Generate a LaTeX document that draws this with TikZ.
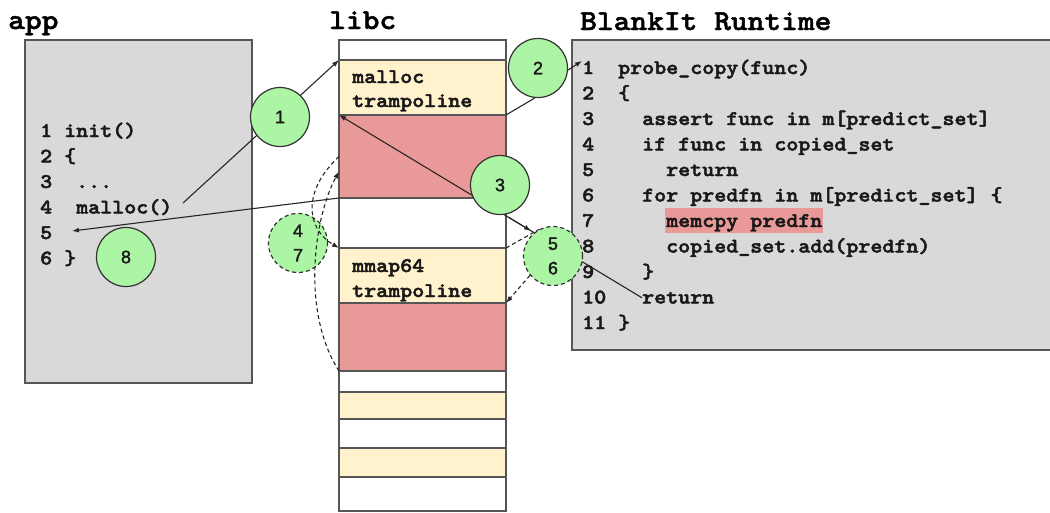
\documentclass[tikz,border=0pt]{standalone}
\usepackage{fontspec}
\newfontfamily\numfont{Liberation Sans}
\usetikzlibrary{arrows.meta,calc}

\definecolor{boxgray}{HTML}{D9D9D9}
\definecolor{boxline}{HTML}{555555}
\definecolor{tyellow}{HTML}{FFF2CC}
\definecolor{tred}{HTML}{EA9999}
\definecolor{bubblegreen}{RGB}{172,245,164}

% typewriter text widened to a Courier-like advance, with a slightly heavier outline
\newcommand{\cw}[1]{\special{pdf:literal direct 2 Tr 0.45 w}\scalebox{1.1}[1]{#1}\special{pdf:literal direct 0 Tr}}
% step numbers with a light outline
\newcommand{\sn}[1]{\special{pdf:literal direct 2 Tr 0.3 w}#1\special{pdf:literal direct 0 Tr}}

\pgfdeclarelayer{base}
\pgfdeclarelayer{links}
\pgfdeclarelayer{top}
\pgfsetlayers{base,links,main,top}

\tikzset{
  title/.style={font=\ttfamily\bfseries\fontsize{29}{29}\selectfont, inner sep=0pt, anchor=base west, text=black},
  code/.style={font=\ttfamily\bfseries\fontsize{20.8}{20.8}\selectfont, inner sep=0pt, anchor=base west, text=black!90},
  panel/.style={draw=boxline, fill=boxgray, line width=1.3pt, inner sep=0pt, outer sep=0pt, anchor=north west},
  slot/.style={draw=boxline, line width=1.1pt, minimum width=167pt, inner sep=0pt, outer sep=0pt, anchor=north west},
  bubble/.style={circle, draw=black!80, line width=1.2pt, fill=bubblegreen, minimum size=59pt, inner sep=0pt,
    font=\numfont\fontsize{18}{24.5}\selectfont, align=center, text=black!90},
  link/.style={draw=black!85, line width=1.1pt},
  linkarrow/.style={link, -{Latex[length=7pt,width=5pt]}},
  dashlink/.style={link, dash pattern=on 4pt off 3pt},
  dasharrow/.style={dashlink, -{Latex[length=7pt,width=5pt]}},
}

\begin{document}
\begin{tikzpicture}[x=1pt,y=-1pt]
\useasboundingbox (0,0) rectangle (1050,512);

\begin{pgfonlayer}{base}
  % column titles
  \node[title] (tapp) at (8,29) {\cw{app}};
  \node[title] (tlibc) at (329,29) {\cw{libc}};
  \node[title] (trt) at (580,30) {\cw{BlankIt Runtime}};

  % application panel
  \node[panel, minimum width=227pt, minimum height=343pt] (appbox) at (25,40) {};
  \node[code] (an1) at (40,137) {\cw{1}};   \node[code] (ac1) at (64,137) {\cw{init()}};
  \node[code] (an2) at (40,162.5) {\cw{2}}; \node[code] (ac2) at (64,162.5) {\cw{\{}};
  \node[code] (an3) at (40,188) {\cw{3}};   \node[code] (ac3) at (76,188) {\cw{...}};
  \node[code] (an4) at (40,213.5) {\cw{4}}; \node[code] (ac4) at (76,213.5) {\cw{malloc()}};
  \node[code] (an5) at (40,239) {\cw{5}};
  \node[code] (an6) at (40,264.5) {\cw{6}}; \node[code] (ac6) at (64,264.5) {\cw{\}}};

  % runtime panel
  \node[panel, minimum width=500pt, minimum height=310pt] (rtbox) at (572,40) {};
  \node[code] (rn1) at (582,74) {\cw{1}};     \node[code] (rc1) at (618,74) {\cw{probe\_copy(func)}};
  \node[code] (rn2) at (582,99.5) {\cw{2}};   \node[code] (rc2) at (618,99.5) {\cw{\{}};
  \node[code] (rn3) at (582,125) {\cw{3}};    \node[code] (rc3) at (642,125) {\cw{assert func in m[predict\_set]}};
  \node[code] (rn4) at (582,150.5) {\cw{4}};  \node[code] (rc4) at (642,150.5) {\cw{if func in copied\_set}};
  \node[code] (rn5) at (582,176) {\cw{5}};    \node[code] (rc5) at (666,176) {\cw{return}};
  \node[code] (rn6) at (582,201.5) {\cw{6}};  \node[code] (rc6) at (642,201.5) {\cw{for predfn in m[predict\_set] \{}};
  \node[code] (rn7) at (582,227) {\cw{7}};
  \node[code, fill=tred, inner xsep=1pt, text height=19pt, text depth=6pt] (rc7) at (665,227) {\cw{memcpy predfn}};
  \node[code] (rn8) at (582,252.5) {\cw{8}};  \node[code] (rc8) at (666,252.5) {\cw{copied\_set.add(predfn)}};
  \node[code] (rn9) at (582,278) {\cw{9}};    \node[code] (rc9) at (642,278) {\cw{\}}};
  \node[code] (rn10) at (582,303.5) {\cw{10}}; \node[code] (rc10) at (642,303.5) {\cw{return}};
  \node[code] (rn11) at (582,329) {\cw{11}};  \node[code] (rc11) at (618,329) {\cw{\}}};

  % libc memory layout
  \node[slot, fill=white,   minimum height=20pt] (s0)  at (339,40) {};
  \node[slot, fill=tyellow, minimum height=55pt] (mt)  at (339,60) {};
  \node[slot, fill=tred,    minimum height=83pt] (mr)  at (339,115) {};
  \node[slot, fill=white,   minimum height=50pt] (s1)  at (339,198) {};
  \node[slot, fill=tyellow, minimum height=55pt] (mm)  at (339,248) {};
  \node[slot, fill=tred,    minimum height=68pt] (mmr) at (339,303) {};
  \node[slot, fill=white,   minimum height=21pt] (s2)  at (339,371) {};
  \node[slot, fill=tyellow, minimum height=27pt] (s3)  at (339,392) {};
  \node[slot, fill=white,   minimum height=29pt] (s4)  at (339,419) {};
  \node[slot, fill=tyellow, minimum height=29pt] (s5)  at (339,448) {};
  \node[slot, fill=white,   minimum height=34pt] (s6)  at (339,477) {};

  \node[code] (mtl1) at (352,83) {\cw{malloc}};
  \node[code] (mtl2) at (352,107) {\cw{trampoline}};
  \node[code] (mml1) at (352,272) {\cw{mmap64}};
  \node[code] (mml2) at (352,297) {\cw{trampoline}};
\end{pgfonlayer}

% step markers
\node[bubble] (c1) at (280,117) {\sn{1}};
\node[bubble] (c2) at (538,68) {\sn{2}};
\node[bubble] (c3) at (500,185) {\sn{3}};
\node[bubble, dashed, dash pattern=on 4pt off 3pt] (c47) at (298,243) {\sn{4}\\\sn{7}};
\node[bubble, dashed, dash pattern=on 4pt off 3pt] (c56) at (553,256) {\sn{5}\\\sn{6}};
\node[bubble] (c8) at (126,257) {\sn{8}};

\coordinate (callsite) at (183,203);
\coordinate (retsite) at (72,231);

\begin{pgfonlayer}{links}
  % 1: call into the malloc trampoline
  \draw[linkarrow] (callsite) -- (mt.north west);
  % 2: trampoline enters probe_copy
  \draw[link] (mt.south east) -- (c2.264);
  \draw[linkarrow] (c2.356) -- (rn1.north west);
  % 3: copy of the predicted function into libc
  \draw[linkarrow] (rc10.west) -- (mr.north west);
  \draw[linkarrow] ($(rc10.west)!0.44!(mr.north west)$) -- ($(rc10.west)!0.366!(mr.north west)$);
  % 5/6: mmap64 trampoline round trip
  \draw[dashlink] (mm.north east) -- (c56.117);
  \draw[dasharrow] (c56.220) -- (mm.south east);
  % 8: return to the application
  \draw[linkarrow] (mr.south west) -- (retsite);
\end{pgfonlayer}

\begin{pgfonlayer}{top}
  % 4: malloc calls mmap64
  \draw[dasharrow] (mr.west) .. controls (303,190) and (305,228) .. (mm.north west);
  % 7: mmap64 returns into malloc
  \draw[dasharrow] (mmr.south west) .. controls (300,310) and (315,215) .. ($(mr.west)+(0,15)$);
\end{pgfonlayer}
\end{tikzpicture}
\end{document}
